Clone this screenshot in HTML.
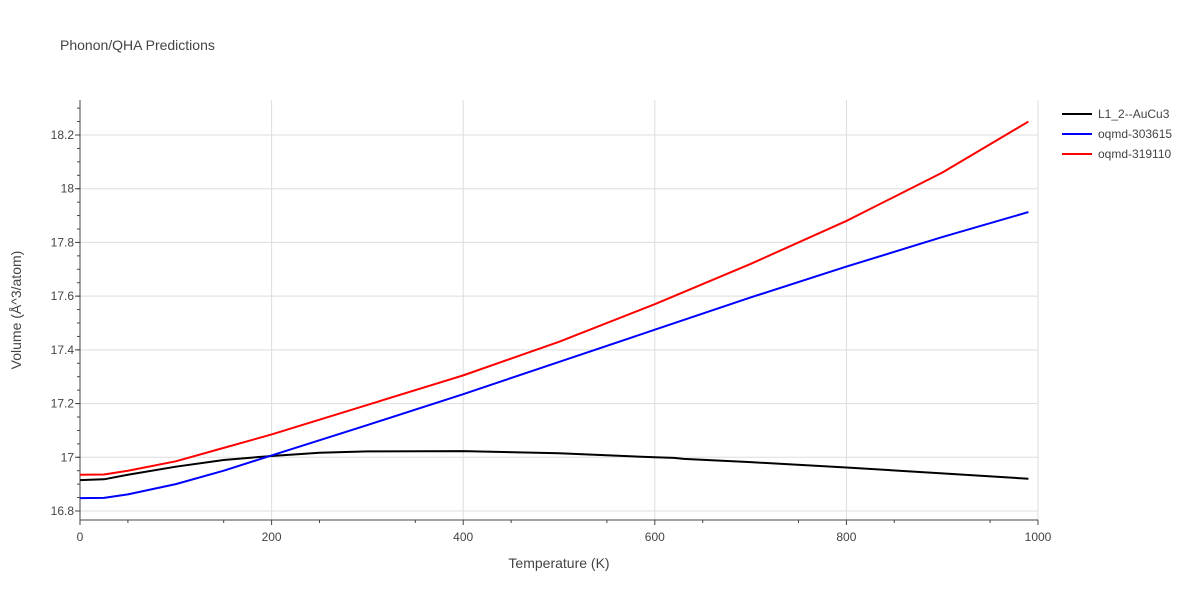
<!DOCTYPE html>
<html><head><meta charset="utf-8"><style>
body{margin:0;background:#fff;font-family:"Liberation Sans",sans-serif}
svg text{font-family:"Liberation Sans",sans-serif;fill:#444}
</style></head><body>
<svg id="c" width="1200" height="600"></svg>
<script>
const xTicks=[0,200,400,600,800,1000];
const yTicks=[16.8,17,17.2,17.4,17.6,17.8,18,18.2];
const yTickLabels=["16.8","17","17.2","17.4","17.6","17.8","18","18.2"];
const tBlack=[0,25,50,100,150,200,250,300,400,500,600,620,630,700,800,900,990];
const vBlack=[16.915,16.918,16.935,16.965,16.99,17.005,17.017,17.022,17.023,17.015,17.0,16.998,16.994,16.982,16.962,16.94,16.92];
const tBlue=[0,25,50,100,150,200,300,400,500,600,700,800,900,990];
const vBlue=[16.848,16.849,16.862,16.9,16.95,17.007,17.12,17.235,17.355,17.475,17.595,17.71,17.82,17.913];
const tRed=[0,25,50,100,150,200,300,400,500,600,700,800,900,990];
const vRed=[16.935,16.936,16.95,16.985,17.035,17.085,17.195,17.305,17.43,17.57,17.72,17.88,18.06,18.25];
const seriesNames=["L1_2--AuCu3","oqmd-303615","oqmd-319110"];
const colors=["#000","#0000ff","#ff0000"];
const L=80,R=1038,T=100,B=520;
const x=v=>L+(v-0)/1000*(R-L);
const y=v=>511-(v-16.8)/1.4*(511-135);
const s=document.getElementById('c'),NS="http://www.w3.org/2000/svg";
function mk(t,a,p){const e=document.createElementNS(NS,t);for(const k in a)e.setAttribute(k,a[k]);(p||s).appendChild(e);return e;}
for(const v of xTicks){if(v>0){const g=mk('line',{x1:x(v),x2:x(v),y1:T,y2:B,stroke:'#ddd'});}
const t=mk('text',{x:x(v),y:541,'text-anchor':'middle','font-size':12});t.textContent=v;
mk('line',{x1:x(v),x2:x(v),y1:B,y2:B+5,stroke:'#444'});}
for(let v=50;v<1000;v+=100)mk('line',{x1:x(v),x2:x(v),y1:B,y2:B+3,stroke:'#444'});
yTicks.forEach((v,i)=>{const g=mk('line',{x1:L,x2:R,y1:y(v),y2:y(v),stroke:'#ddd'});
const t=mk('text',{x:L-6,y:y(v)+4,'text-anchor':'end','font-size':12});t.textContent=yTickLabels[i];
mk('line',{x1:L-5,x2:L,y1:y(v),y2:y(v),stroke:'#444'});});
for(let v=16.8;v<18.33;v+=0.05){const py=y(v);if(py>T&&py<B)mk('line',{x1:L-3,x2:L,y1:py,y2:py,stroke:'#444'});}
for(let v=16.75;v<16.8;v+=0.05){const py=y(v);if(py<B)mk('line',{x1:L-3,x2:L,y1:py,y2:py,stroke:'#444'});}
const ax=mk('line',{x1:L,x2:L,y1:T,y2:B,stroke:'#444'});
const bx=mk('line',{x1:L,x2:R,y1:B,y2:B,stroke:'#444'});
const data=[[tBlack,vBlack],[tBlue,vBlue],[tRed,vRed]];
data.forEach((d,i)=>{const pts=d[0].map((t,j)=>x(t)+','+y(d[1][j])).join(' ');
const p=mk('polyline',{points:pts,fill:'none',stroke:colors[i],'stroke-width':2,'stroke-linejoin':'round'});

const ly=114+i*20;const g=mk('g',{});
mk('line',{x1:1062,x2:1092,y1:ly,y2:ly,stroke:colors[i],'stroke-width':2},g);
const t=mk('text',{x:1098,y:ly+4,'font-size':12},g);t.textContent=seriesNames[i];});
let t=mk('text',{x:60,y:50,'font-size':14});t.textContent="Phonon/QHA Predictions";
t=mk('text',{x:559,y:568,'text-anchor':'middle','font-size':14});t.textContent="Temperature (K)";
t=mk('text',{x:21,y:310,'text-anchor':'middle','font-size':14,transform:'rotate(-90 21 310)'});t.textContent="Volume (Å^3/atom)";
</script></body></html>
